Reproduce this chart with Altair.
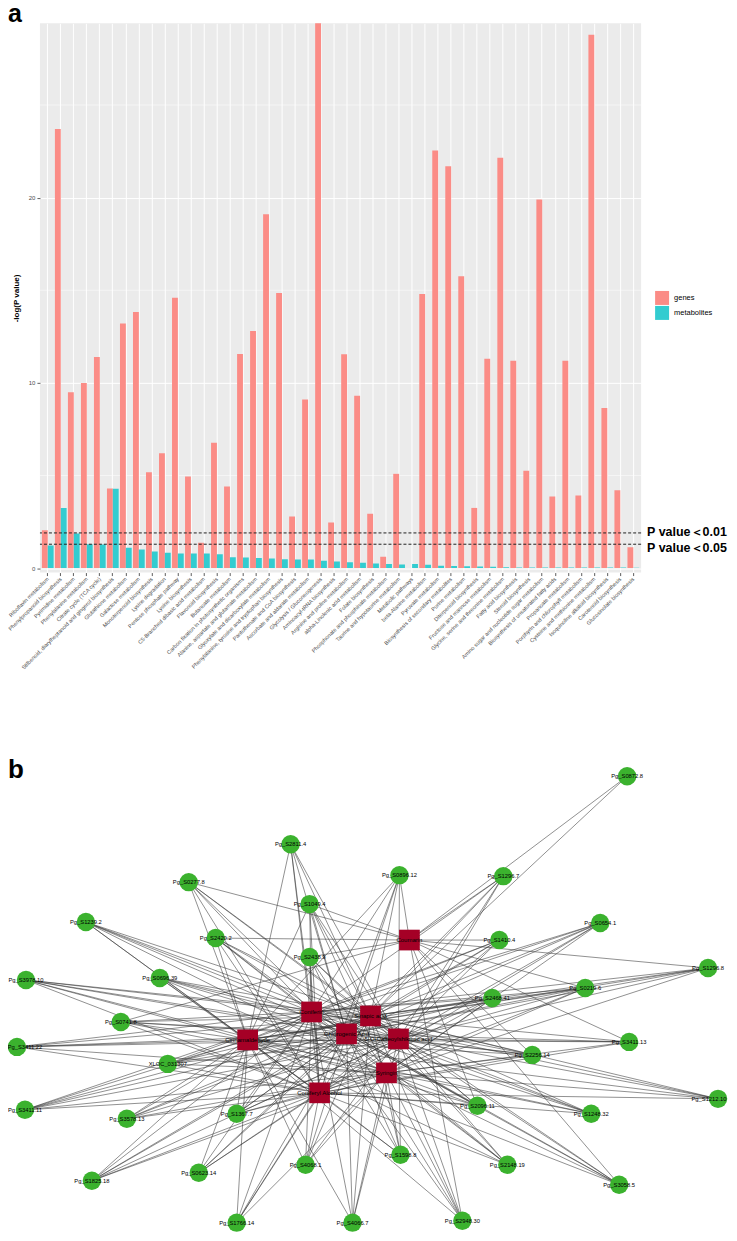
import altair as alt
import pandas as pd

# ---------- panel a values ----------
pathways = [
    "Riboflavin metabolism", "Phenylpropanoid biosynthesis", "Pyrimidine metabolism",
    "Phenylalanine metabolism", "Citrate cycle (TCA cycle)",
    "Stilbenoid, diarylheptanoid and gingerol biosynthesis", "Glutathione metabolism",
    "Galactose metabolism", "Monoterpenoid biosynthesis", "Lysine degradation",
    "Pentose phosphate pathway", "Lysine biosynthesis", "C5-Branched dibasic acid metabolism",
    "Flavonoid biosynthesis", "Butanoate metabolism",
    "Carbon fixation in photosynthetic organisms", "Alanine, aspartate and glutamate metabolism",
    "Glyoxylate and dicarboxylate metabolism", "Phenylalanine, tyrosine and tryptophan biosynthesis",
    "Pantothenate and CoA biosynthesis", "Ascorbate and aldarate metabolism",
    "Glycolysis / Gluconeogenesis", "Aminoacyl-tRNA biosynthesis", "Arginine and proline metabolism",
    "alpha-Linolenic acid metabolism", "Folate biosynthesis",
    "Phosphonate and phosphinate metabolism", "Taurine and hypotaurine metabolism",
    "Metabolic pathways", "beta-Alanine metabolism", "Pyruvate metabolism",
    "Biosynthesis of secondary metabolites", "Purine metabolism", "Diterpenoid biosynthesis",
    "Fructose and mannose metabolism", "Glycine, serine and threonine metabolism",
    "Fatty acid biosynthesis", "Steroid biosynthesis", "Amino sugar and nucleotide sugar metabolism",
    "Biosynthesis of unsaturated fatty acids", "Propanoate metabolism",
    "Porphyrin and chlorophyll metabolism", "Cysteine and methionine metabolism",
    "Isoquinoline alkaloid biosynthesis", "Carotenoid biosynthesis", "Glucosinolate biosynthesis",
]
genes = [2.05, 23.7, 9.5, 10.0, 11.4, 4.3, 13.2, 13.83, 5.18, 6.2, 14.6, 4.94, 1.37, 6.77, 4.4,
         11.56, 12.8, 19.1, 14.85, 2.79, 9.1, 30.0, 2.46, 11.55, 9.3, 2.93, 0.61, 5.09, 0.0, 14.8,
         22.55, 21.7, 15.76, 3.25, 11.3, 22.15, 11.2, 5.25, 19.9, 3.86, 11.2, 3.92, 28.8, 8.65,
         4.2, 1.13]
metabolites = [1.22, 3.25, 1.87, 1.29, 1.28, 4.28, 1.10, 1.0, 0.9, 0.83, 0.79, 0.79, 0.79, 0.75,
               0.59, 0.575, 0.54, 0.52, 0.485, 0.47, 0.47, 0.40, 0.36, 0.32, 0.29, 0.25, 0.22, 0.2,
               0.22, 0.18, 0.125, 0.11, 0.1, 0.09, 0.07, 0.05, 0.04, 0.04, 0.03, 0.03, 0.03, 0.03,
               0.03, 0.03, 0.03, 0.02]
thresholds = [1.9, 1.29]
threshold_labels = ["P value\uff1c0.01", "P value\uff1c0.05"]
threshold_label_pos = [1.93, 1.09]
minor_grid = [5, 15, 25]

# ---------- panel b values ----------
gene_nodes = [
    ("Pg_S0872.8", 628, 777, "CS"), ("Pg_S0896.12", 400, 876, "CNSGFMA"),
    ("Pg_S1296.7", 504, 877, "CNSGFY"), ("Pg_S0654.1", 601, 924, "NSGFMYA"),
    ("Pg_S1410.4", 500, 941, "CNSGFMA"), ("Pg_S1296.8", 709, 969, "CNSGFMY"),
    ("Pg_S0219.6", 586, 989, "CNSGFMYA"), ("Pg_S2468.41", 493, 999, "NSGFMYA"),
    ("Pg_S3411.13", 630, 1043, "CNGFMYA"), ("Pg_S2811.4", 291, 845, "NSGFMA"),
    ("Pg_S0277.8", 189, 883, "CNSGFMA"), ("Pg_S1239.2", 86, 923, "NSGFMYA"),
    ("Pg_S2420.2", 216, 939, "CNSGFMYA"), ("Pg_S0696.39", 160, 979, "NSGFMYA"),
    ("Pg_S3978.10", 26, 981, "NSGFMYA"), ("Pg_S0741.8", 121, 1023, "CNSGFMYA"),
    ("Pg_S1049.4", 310, 905, "CNSGFMYA"), ("Pg_S2438.9", 310, 958, "CNSGFYA"),
    ("Pg_S3411.22", 17, 1048, "NSGFMYA"), ("XLOC_031307", 168, 1065, "NSGFMYA"),
    ("Pg_S3411.11", 25, 1111, "NSGFMYA"), ("Pg_S3578.13", 127, 1120, "NSGFMYA"),
    ("Pg_S1367.7", 237, 1115, "NSGFMYA"), ("Pg_S1825.18", 92, 1182, "NSGFMYA"),
    ("Pg_S0623.14", 199, 1174, "NSGFMA"), ("Pg_S1766.14", 237, 1224, "NSGMYA"),
    ("Pg_S2256.14", 533, 1056, "CNSGFMYA"), ("Pg_S1212.10", 719, 1100, "NSFMYA"),
    ("Pg_S2096.11", 478, 1107, "CNSGFMYA"), ("Pg_S1248.32", 592, 1115, "NSGFMYA"),
    ("Pg_S1598.8", 401, 1156, "NSGFMYA"), ("Pg_S2148.19", 508, 1166, "NSGFMYA"),
    ("Pg_S3058.5", 620, 1186, "CNSGFMY"), ("Pg_S4068.1", 306, 1166, "NSGFMYA"),
    ("Pg_S4066.7", 353, 1224, "NSGFMY"), ("Pg_S2948.30", 463, 1222, "CNSGFMY"),
]
label_nudge = {"Pg_S3411.22": 8, "Pg_S1212.10": -9}
metabolite_nodes = [
    ("C", "Coumarin", 410, 941), ("N", "Coniferin", 312, 1013),
    ("S", "Sinapic acid", 371, 1017), ("G", "Chlorogenic Acid", 347, 1035),
    ("F", "5-O-Caffeoylshikimic acid", 399, 1040), ("M", "Cinnamaldehyde", 248, 1041),
    ("Y", "Syringin", 387, 1074), ("A", "Coniferyl Alcohol", 320, 1094),
]

FONT = "Liberation Sans"
BAR_COLORS = ["#FB8C86", "#33CCD0"]

# ---------- panel a ----------
bars_df = pd.DataFrame(
    [{"pathway": p, "group": "genes", "value": v} for p, v in zip(pathways, genes)]
    + [{"pathway": p, "group": "metabolites", "value": v} for p, v in zip(pathways, metabolites)]
)
y_scale = alt.Scale(domain=[-0.24, 29.41], nice=False, zero=False)

minor = alt.Chart(pd.DataFrame({"v": minor_grid})).mark_rule(color="white", strokeWidth=0.5).encode(
    y=alt.Y("v:Q", scale=y_scale))

bars = alt.Chart(bars_df).mark_bar(clip=True).encode(
    x=alt.X("pathway:N", sort=pathways, title=None,
            scale=alt.Scale(paddingInner=0, paddingOuter=0.1),
            axis=alt.Axis(labelAngle=315, labelAlign="right", labelBaseline="middle",
                          labelFontSize=5.5, labelColor="#4D4D4D", labelFont=FONT, labelOverlap=False,
                          labelLimit=300, labelPadding=2, tickSize=3, tickColor="#333333",
                          tickWidth=0.8, domain=False, grid=True, gridColor="white", gridWidth=1)),
    xOffset=alt.XOffset("group:N", scale=alt.Scale(paddingInner=0, paddingOuter=0.11)),
    y=alt.Y("value:Q", scale=y_scale, title="-log(P value)",
            axis=alt.Axis(values=[0, 10, 20], labelFontSize=6, labelColor="#4D4D4D", labelFont=FONT,
                          tickSize=3, tickColor="#333333", tickWidth=0.8, domain=False, grid=True,
                          gridColor="white", gridWidth=1, titleFont=FONT, titleFontSize=8,
                          titleFontWeight="bold", titleColor="black", titlePadding=8, labelPadding=2)),
    color=alt.Color("group:N", scale=alt.Scale(domain=["genes", "metabolites"], range=BAR_COLORS),
                    legend=alt.Legend(orient="none", legendX=616, legendY=268, title=None,
                                      symbolType="square", symbolSize=196, symbolStrokeWidth=0,
                                      labelFontSize=7.5, labelFont=FONT, labelColor="black",
                                      rowPadding=1, labelOffset=5, symbolOffset=0)),
)

dashes = alt.Chart(pd.DataFrame({"v": thresholds})).mark_rule(
    color="#222222", strokeDash=[3, 2], strokeWidth=1).encode(y=alt.Y("v:Q", scale=y_scale))

p_text = alt.Chart(pd.DataFrame({"v": threshold_label_pos, "t": threshold_labels})).mark_text(
    align="left", baseline="middle", font=FONT, fontSize=12.5, fontWeight="bold", color="black"
).encode(x=alt.value(608), y=alt.Y("v:Q", scale=y_scale), text="t:N")

letter_a = alt.Chart(pd.DataFrame({"t": ["a"]})).mark_text(
    align="left", baseline="alphabetic", font=FONT, fontSize=25, fontWeight="bold", color="black"
).encode(x=alt.value(-32), y=alt.value(-1.5), text="t:N")

panel_a = alt.layer(minor, bars, dashes, p_text, letter_a).properties(
    width=602, height=550, view=alt.ViewConfig(fill="#EBEBEB", stroke=None))

# ---------- panel b ----------
mpos = {m[0]: (m[2], m[3]) for m in metabolite_nodes}
edges_df = pd.DataFrame([
    {"x": gx, "y": gy, "x2": mpos[c][0], "y2": mpos[c][1]}
    for _, gx, gy, partners in gene_nodes for c in partners
])
gene_df = pd.DataFrame([{"label": g[0], "x": g[1], "y": g[2],
                         "lx": g[1] + label_nudge.get(g[0], 0)} for g in gene_nodes])
met_df = pd.DataFrame([{"label": m[1], "x": m[2], "y": m[3]} for m in metabolite_nodes])

bx = alt.Scale(domain=[40, 725], nice=False, zero=False)
by = alt.Scale(domain=[750, 1233], nice=False, zero=False, reverse=True)
X = alt.X("x:Q", scale=bx, axis=None)
Y = alt.Y("y:Q", scale=by, axis=None)

edges = alt.Chart(edges_df).mark_rule(color="#333333", strokeWidth=0.6, opacity=0.9).encode(
    x=X, y=Y, x2="x2:Q", y2="y2:Q")
gene_pts = alt.Chart(gene_df).mark_point(filled=True, shape="circle", size=340, color="#3BB22E",
                                         opacity=1).encode(x=X, y=Y)
met_pts = alt.Chart(met_df).mark_point(filled=True, shape="square", size=430, color="#A50026",
                                       opacity=1).encode(x=X, y=Y)
gene_txt = alt.Chart(gene_df).mark_text(font=FONT, fontSize=5.8, color="black").encode(
    x=alt.X("lx:Q", scale=bx, axis=None), y=Y, text="label:N")
met_txt = alt.Chart(met_df).mark_text(font=FONT, fontSize=6, color="black").encode(
    x=X, y=Y, text="label:N")
letter_b = alt.Chart(pd.DataFrame({"t": ["b"]})).mark_text(
    align="left", baseline="alphabetic", font=FONT, fontSize=26, fontWeight="bold", color="black"
).encode(x=alt.value(-32), y=alt.value(29), text="t:N")

panel_b = alt.layer(edges, gene_pts, met_pts, gene_txt, met_txt, letter_b).properties(
    width=685, height=483, view=alt.ViewConfig(stroke=None))

chart = alt.vconcat(panel_a, panel_b, spacing=177, bounds="flush").properties(
    padding={"left": -1, "top": -7.5, "right": 0, "bottom": 0}).configure_view(stroke=None)

chart.save("out.html", embed_options={"renderer": "svg", "actions": False})
